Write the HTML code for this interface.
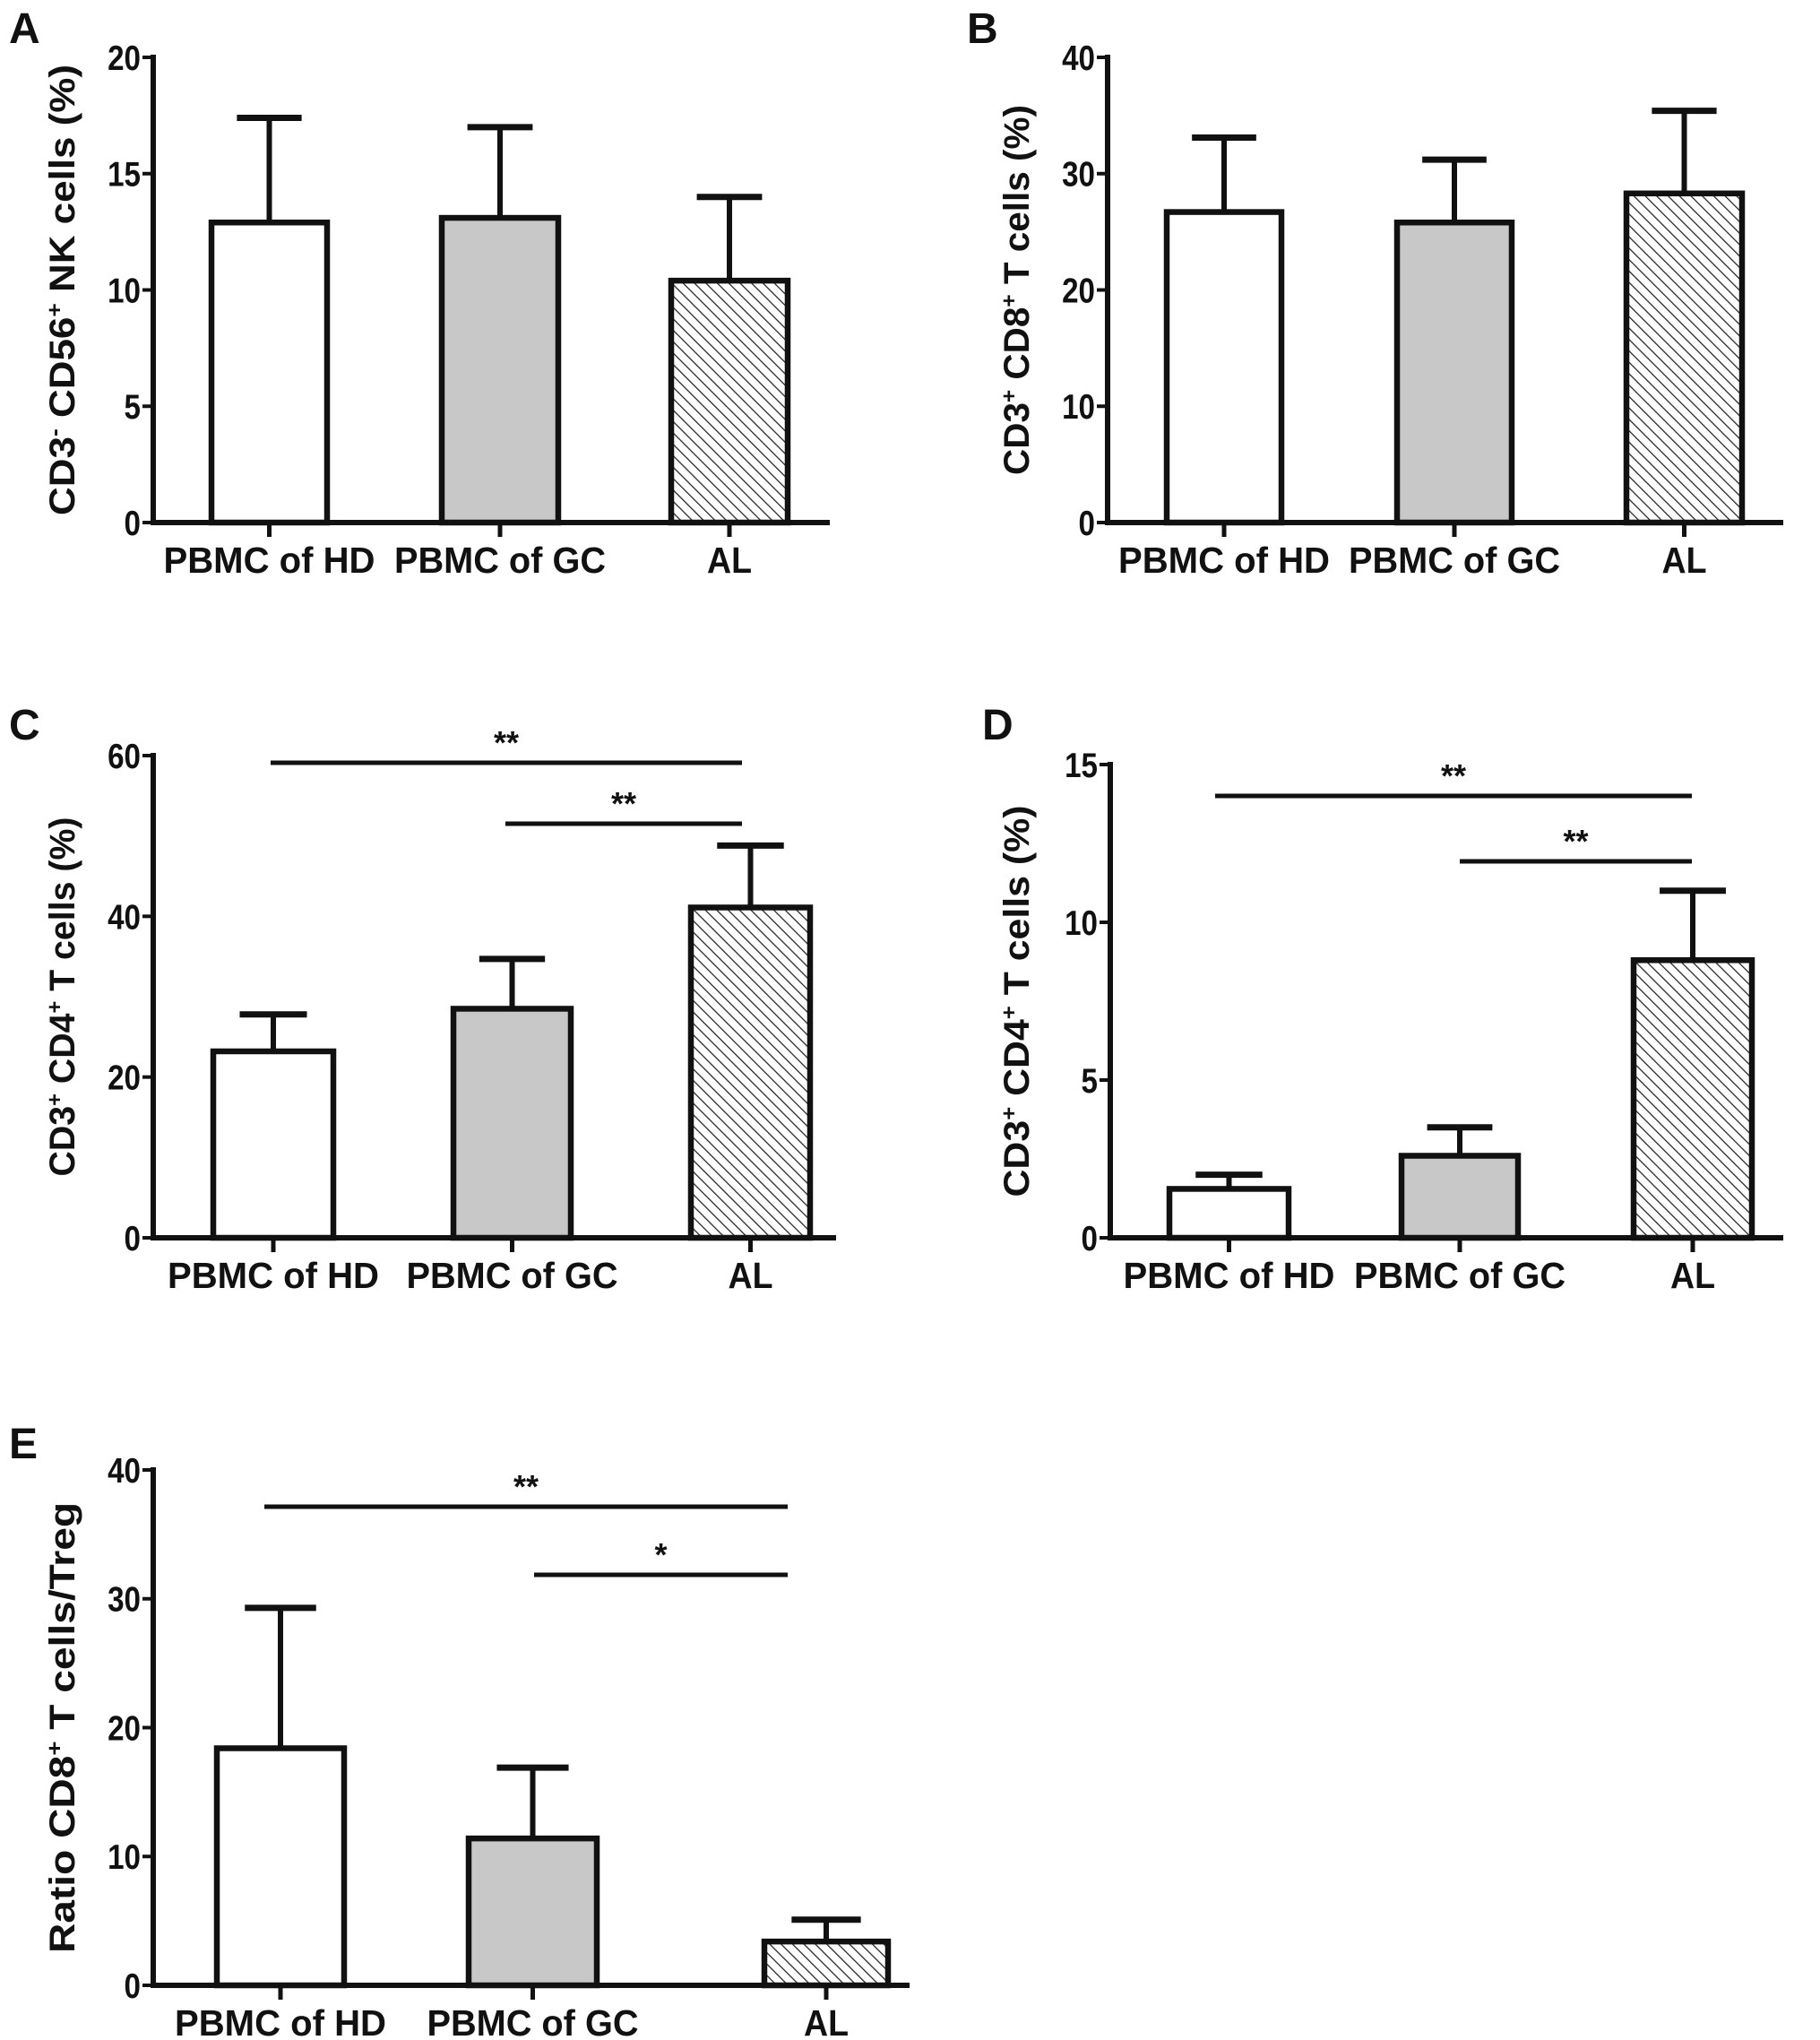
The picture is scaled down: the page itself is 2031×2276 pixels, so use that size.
<!DOCTYPE html>
<html><head><meta charset="utf-8"><style>
html,body{margin:0;padding:0;background:#fff;}
svg{display:block;}
text{font-family:"Liberation Sans",Arial,sans-serif;font-weight:bold;fill:#111;}
</style></head><body>
<svg id="fig" width="2031" height="2276" viewBox="0 0 2031 2276" xmlns="http://www.w3.org/2000/svg">
<defs>
<pattern id="hatch" patternUnits="userSpaceOnUse" width="9" height="9" patternTransform="rotate(-45)">
<rect width="9" height="9" fill="#fff"/>
<line x1="0" y1="0" x2="0" y2="9" stroke="#222" stroke-width="2.5"/>
</pattern>
</defs>
</svg>
<script>
const categories = ["PBMC of HD", "PBMC of GC", "AL"];
const aMeans = [12.9, 13.1, 10.4];
const aErrTops = [17.4, 17.0, 14.0];
const aTicks = [0, 5, 10, 15, 20];
const bMeans = [26.7, 25.8, 28.3];
const bErrTops = [33.1, 31.2, 35.4];
const bTicks = [0, 10, 20, 30, 40];
const cMeans = [23.2, 28.5, 41.1];
const cErrTops = [27.8, 34.7, 48.8];
const cTicks = [0, 20, 40, 60];
const dMeans = [1.55, 2.6, 8.8];
const dErrTops = [2.0, 3.5, 11.0];
const dTicks = [0, 5, 10, 15];
const eMeans = [18.4, 11.4, 3.4];
const eErrTops = [29.3, 16.9, 5.1];
const eTicks = [0, 10, 20, 30, 40];

const NS = "http://www.w3.org/2000/svg";
const svg = document.getElementById('fig');
function mk(tag, attrs, parent){
  const e = document.createElementNS(NS, tag);
  for (const k in attrs) e.setAttribute(k, attrs[k]);
  (parent||svg).appendChild(e);
  return e;
}
const fills = ["#fff", "#c8c8c8", "url(#hatch)"];
const labelLens = [236, 236, 50];

const panels = [
 {id:"a", letter:"A", lx:10, ly:48, ax:171, top:64, bot:583, xEnd:926, bars:[[236,365],[493,623],[749,879]], means:aMeans, errs:aErrTops, ticks:aTicks, max:20, tx:69, tlen:503,
  title:[["CD3",0],["-",1],[" CD56",0],["+",1],[" NK cells (%)",0]], sig:[]},
 {id:"b", letter:"B", lx:1079, ly:48, ax:1236, top:64, bot:583, xEnd:1990, bars:[[1302,1430],[1559,1687],[1815,1944]], means:bMeans, errs:bErrTops, ticks:bTicks, max:40, tx:1134, tlen:413,
  title:[["CD3",0],["+",1],[" CD8",0],["+",1],[" T cells (%)",0]], sig:[]},
 {id:"c", letter:"C", lx:10, ly:825, ax:171, top:843, bot:1381, xEnd:933, bars:[[238,372],[506,637],[771,904]], means:cMeans, errs:cErrTops, ticks:cTicks, max:60, tx:69, tlen:401,
  title:[["CD3",0],["+",1],[" CD4",0],["+",1],[" T cells (%)",0]], sig:[[302,828,851,"**"],[564,828,919,"**"]]},
 {id:"d", letter:"D", lx:1096, ly:825, ax:1239, top:853, bot:1381, xEnd:1990, bars:[[1305,1438],[1564,1694],[1823,1955]], means:dMeans, errs:dErrTops, ticks:dTicks, max:15, tx:1134, tlen:437,
  title:[["CD3",0],["+",1],[" CD4",0],["+",1],[" T cells (%)",0]], sig:[[1356,1888,888,"**"],[1629,1888,961,"**"]]},
 {id:"e", letter:"E", lx:10, ly:1627, ax:171, top:1640, bot:2215, xEnd:1015, bars:[[242,384],[523,666],[853,991]], means:eMeans, errs:eErrTops, ticks:eTicks, max:40, tx:69, tlen:503,
  title:[["Ratio CD8",0],["+",1],[" T cells/Treg",0]], sig:[[295,879,1681,"**"],[596,879,1757,"*"]]}
];

panels.forEach(p=>{
  const g = mk('g', {});
  
  
  const y = v => p.bot - (v/p.max)*(p.bot-p.top);
  const lt = mk('text', {x:p.lx, y:p.ly, 'font-size':48}, g);
  lt.textContent = p.letter;
  
  
  p.means.forEach((m,i)=>{
    const [x0,x1] = p.bars[i];
    const cx = (x0+x1)/2, cw = (x1-x0)*0.56;
    const el = mk('line', {x1:cx, x2:cx, y1:y(p.errs[i]), y2:y(m), stroke:'#111','stroke-width':6}, g);
    
    
    const cap = mk('line', {x1:cx-cw/2, x2:cx+cw/2, y1:y(p.errs[i]), y2:y(p.errs[i]), stroke:'#111','stroke-width':7}, g);
    
    
    const r = mk('rect', {x:x0, y:y(m), width:x1-x0, height:p.bot-y(m), fill:fills[i], stroke:'#111','stroke-width':6.5}, g);
    
    
    const tk = mk('line', {x1:cx, x2:cx, y1:p.bot, y2:p.bot+16, stroke:'#111','stroke-width':5}, g);
    
    
    const lb = mk('text', {x:cx, y:p.bot+56, 'font-size':41, 'text-anchor':'middle', textLength:labelLens[i], lengthAdjust:'spacingAndGlyphs'}, g);
    lb.textContent = categories[i];
    
    
  });
  const ya = mk('line', {x1:p.ax, x2:p.ax, y1:p.top-3, y2:p.bot+3, stroke:'#111','stroke-width':6}, g);
  
  
  const xa = mk('line', {x1:p.ax-3, x2:p.xEnd, y1:p.bot, y2:p.bot, stroke:'#111','stroke-width':6}, g);
  
  
  p.ticks.forEach(t=>{
    const tl = mk('line', {x1:p.ax-12, x2:p.ax, y1:y(t), y2:y(t), stroke:'#111','stroke-width':4}, g);
    
    
    const tt = mk('text', {x:p.ax-14, y:y(t)+14, 'font-size':39, 'text-anchor':'end', transform:`translate(${p.ax-14},0) scale(0.85,1) translate(${-(p.ax-14)},0)`}, g);
    tt.textContent = t;
    
    
  });
  const cy = (p.top+p.bot)/2;
  const ti = mk('text', {x:0, y:0, 'font-size':40, 'text-anchor':'middle', textLength:p.tlen, lengthAdjust:'spacingAndGlyphs', transform:`translate(${p.tx+14},${cy}) rotate(-90)`}, g);
  
  
  let prevSup = false;
  p.title.forEach(([s,sup])=>{
    let attrs;
    if (sup) attrs = {'font-size':24,'dy':-14};
    else attrs = {'dy': prevSup ? 14 : 0};
    const ts = mk('tspan', attrs, ti);
    ts.textContent = s;
    prevSup = !!sup;
  });
  p.sig.forEach((s,k)=>{
    const sl = mk('line', {x1:s[0], x2:s[1], y1:s[2], y2:s[2], stroke:'#111','stroke-width':5}, g);
    
    
    const st = mk('text', {x:(s[0]+s[1])/2, y:s[2]-10, 'font-size':36, 'text-anchor':'middle', 'font-weight':'normal'}, g);
    st.textContent = s[3];
    
    
  });
});
</script>
</body></html>
